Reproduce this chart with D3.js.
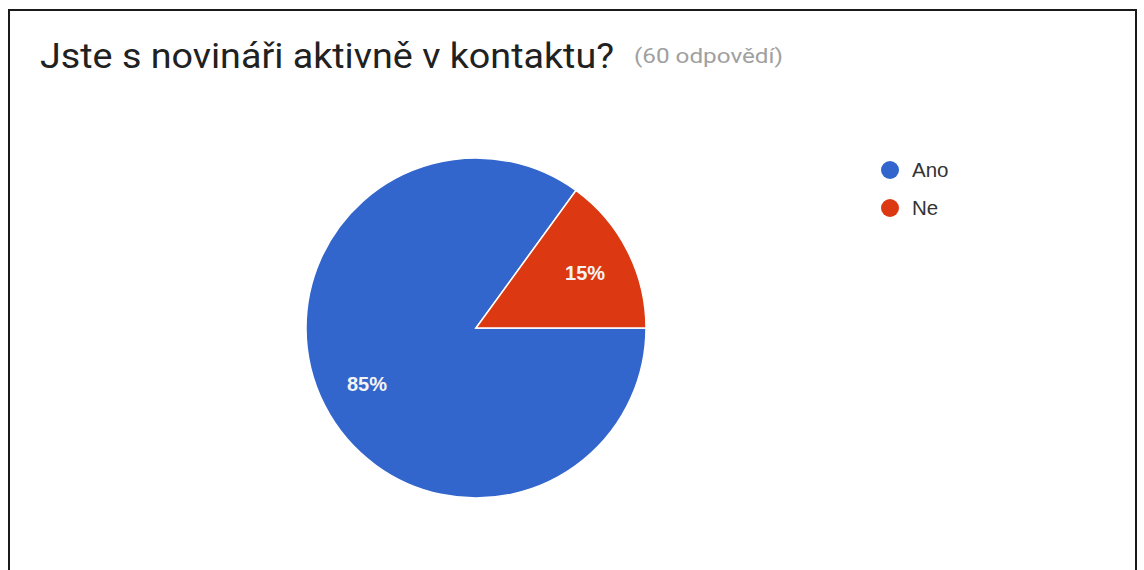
<!DOCTYPE html>
<html>
<head>
<meta charset="utf-8">
<script src="https://cdn.jsdelivr.net/npm/d3@7"></script>
<style>
  html, body { margin: 0; padding: 0; background: #fff; }
  svg { display: block; }
</style>
</head>
<body>
<svg id="chart" width="1144" height="570"></svg>
<script>
// Survey answers
const categories = ["Ano", "Ne"];
const values = [85, 15];
const colors = ["#3366cc", "#dc3912"];
const titleText = "Jste s novináři aktivně v kontaktu?";
const countText = "(60 odpovědí)";

const svg = d3.select("#chart");
const W = 1144, H = 570;

// card frame (open at the bottom)
svg.append("path")
  .attr("d", `M9,${H} L9,10 L1136,10 L1136,${H}`)
  .attr("fill", "none")
  .attr("stroke", "#1a1a1a")
  .attr("stroke-width", 2);

// title and response count
svg.append("text")
  .attr("x", 40).attr("y", 68)
  .attr("font-family", "Roboto, sans-serif")
  .attr("font-size", 35)
  .attr("fill", "#212121")
  .attr("textLength", 574)
  .attr("lengthAdjust", "spacingAndGlyphs")
  .text(titleText);
svg.append("text")
  .attr("x", 634).attr("y", 63)
  .attr("font-family", "Roboto, sans-serif")
  .attr("font-size", 20.5)
  .attr("fill", "#a0a0a0")
  .attr("textLength", 149)
  .attr("lengthAdjust", "spacingAndGlyphs")
  .text(countText);

// pie
const cx = 476, cy = 328, r = 170;
const data = categories.map((c, i) => ({ name: c, value: values[i], color: colors[i] }));
const pie = d3.pie().value(d => d.value).sort(null)
  .startAngle(Math.PI / 2).endAngle(Math.PI / 2 + 2 * Math.PI);
const arc = d3.arc().innerRadius(0).outerRadius(r);
const labelArc = d3.arc().innerRadius(r * 0.72).outerRadius(r * 0.72);

const g = svg.append("g").attr("transform", `translate(${cx},${cy})`);
const arcs = pie(data);
g.selectAll("path.slice").data(arcs).join("path")
  .attr("class", "slice")
  .attr("d", arc)
  .attr("fill", d => d.data.color)
  .attr("stroke", "#fff")
  .attr("stroke-width", 1.5);

const total = d3.sum(values);
g.selectAll("text.pct").data(arcs).join("text")
  .attr("class", "pct")
  .attr("transform", d => `translate(${labelArc.centroid(d)})`)
  .attr("text-anchor", "middle")
  .attr("dy", "0.36em")
  .attr("font-family", "Arial, 'Liberation Sans', sans-serif")
  .attr("font-weight", "bold")
  .attr("font-size", 20)
  .attr("fill", "#f4f4f4")
  .text(d => Math.round(d.data.value / total * 100) + "%");

// legend
const legend = svg.append("g").attr("transform", "translate(890,170)");
const items = legend.selectAll("g").data(data).join("g")
  .attr("transform", (d, i) => `translate(0,${i * 38})`);
items.append("circle").attr("r", 9).attr("fill", d => d.color);
items.append("text")
  .attr("x", 22).attr("dy", "0.36em")
  .attr("font-family", "Arial, 'Liberation Sans', sans-serif")
  .attr("font-size", 20.5)
  .attr("fill", "#333")
  .text(d => d.name);
</script>
</body>
</html>
